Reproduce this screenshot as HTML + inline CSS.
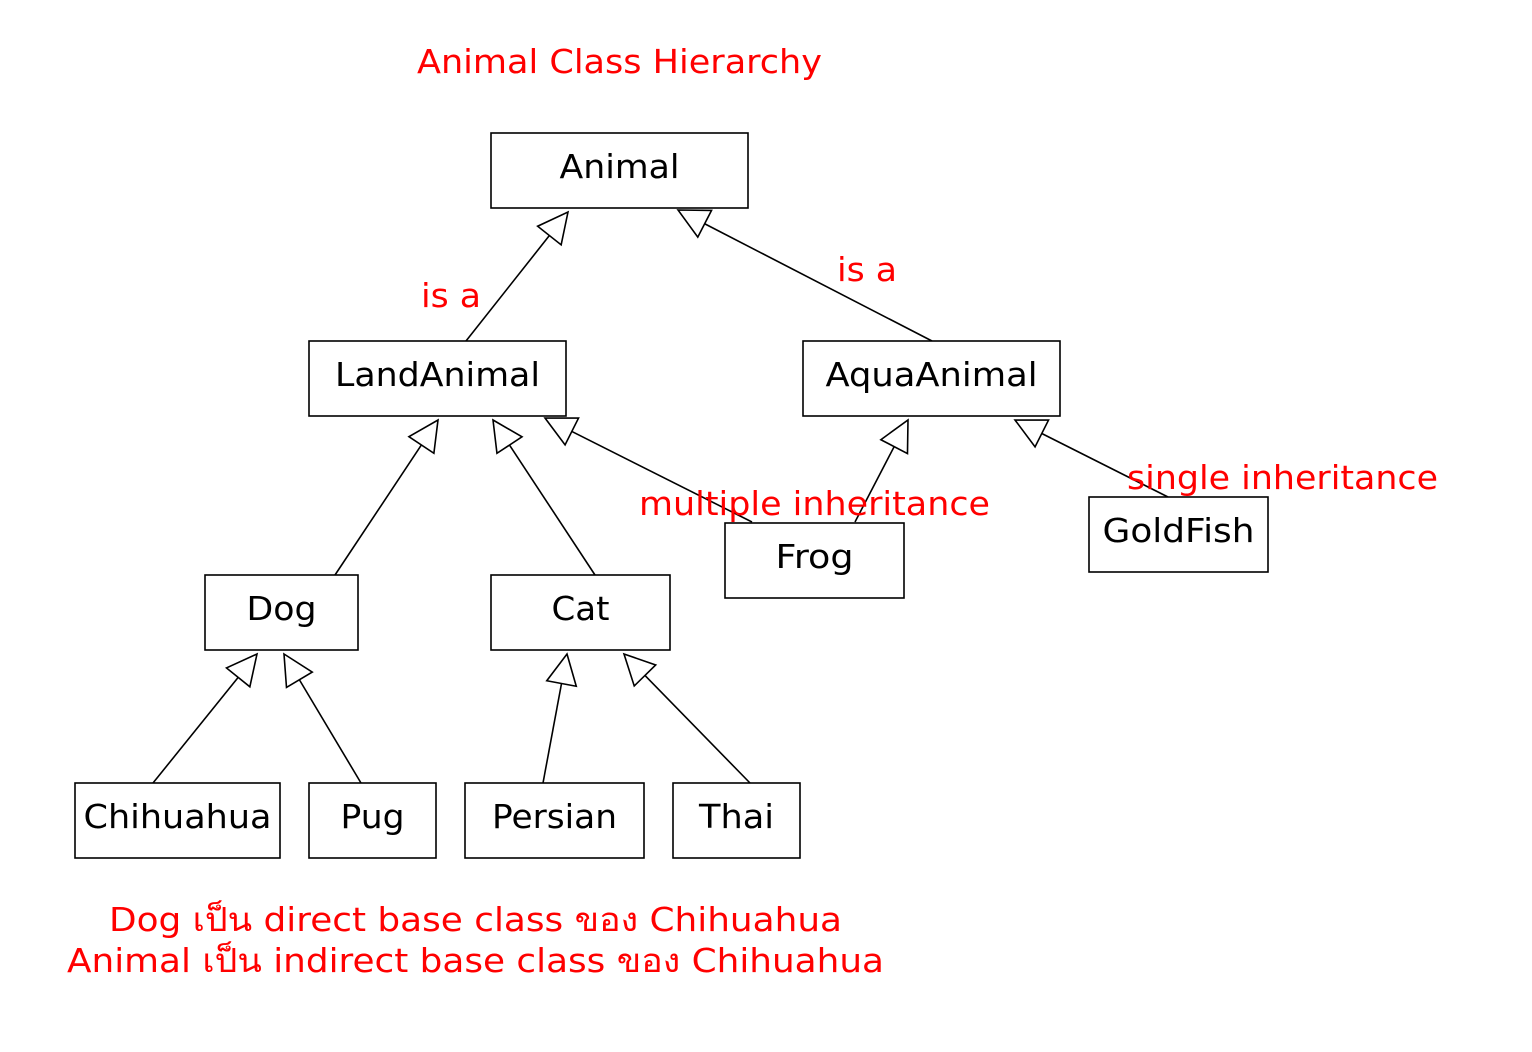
<!DOCTYPE html>
<html><head><meta charset="utf-8"><style>
html,body{margin:0;padding:0;background:#fff;}
svg{display:block;}
text{font-family:"DejaVu Sans","Liberation Sans","Noto Sans CJK SC",sans-serif;}
</style></head><body>
<svg id="d" width="1532" height="1052" viewBox="0 0 1532 1052"></svg>
<script>
const nodeNames=["Animal","LandAnimal","AquaAnimal","Dog","Cat","Frog","GoldFish","Chihuahua","Pug","Persian","Thai"];
const nodeBoxes=[[491,133,257,75],[309,341,257,75],[803,341,257,75],[205,575,153,75],[491,575,179,75],[725,523,179,75],[1089,497,179,75],[75,783,205,75],[309,783,127,75],[465,783,179,75],[673,783,127,75]];
const textWidths=[120,205,212,70,58,78,152,188,64,125,75];
const edges=[[466,341,568,212],[932,341,678,210],[335,575,438,420],[595,575,493,420],[752,522,545,418],[855,522,908,420],[1168,497,1015,420],[153,783,257,654],[361,783,284,654],[543,783,567,654],[750,783,624,654]];
const labels=[["Animal Class Hierarchy",417,73,405,"title"],["is a",421,307,60,"is-a-label-left"],["is a",837,281,60,"is-a-label-right"],["multiple inheritance",639,515,351,"multiple-inheritance-label"],["single inheritance",1127,489,311,"single-inheritance-label"],["Dog เป็น direct base class ของ Chihuahua",109,931,733,"direct-base-note"],["Animal เป็น indirect base class ของ Chihuahua",67,972,817,"indirect-base-note"]];
const NS="http://www.w3.org/2000/svg";
const svg=document.getElementById('d');
function mk(t,a){const e=document.createElementNS(NS,t);for(const k in a)e.setAttribute(k,a[k]);svg.appendChild(e);return e;}
edges.forEach((ed,i)=>{
  const [x1,y1,x2,y2]=ed;const dx=x2-x1,dy=y2-y1,L=Math.hypot(dx,dy),ux=dx/L,uy=dy/L;
  const bx=x2-ux*30,by=y2-uy*30,px=-uy*15,py=ux*15;
  const l=mk('line',{x1:x1,y1:y1,x2:bx,y2:by,stroke:'#000','stroke-width':1.6});
  
  
  const p=mk('polygon',{points:`${x2},${y2} ${bx+px},${by+py} ${bx-px},${by-py}`,fill:'#fff',stroke:'#000','stroke-width':1.6});
  
  
});
nodeNames.forEach((n,i)=>{
  const [x,y,w,h]=nodeBoxes[i];
  const r=mk('rect',{x:x,y:y,width:w,height:h,fill:'#fff',stroke:'#000','stroke-width':1.6});
  
  
  const t=mk('text',{x:x+w/2,y:y+45,'text-anchor':'middle','font-size':33,fill:'#000',textLength:textWidths[i],lengthAdjust:'spacingAndGlyphs'});
  t.textContent=n;
  
  
});
labels.forEach(lb=>{
  const t=mk('text',{x:lb[1],y:lb[2],'font-size':33,fill:'#ff0000',textLength:lb[3],lengthAdjust:'spacingAndGlyphs'});
  t.textContent=lb[0];
  
  
});
</script>
</body></html>
